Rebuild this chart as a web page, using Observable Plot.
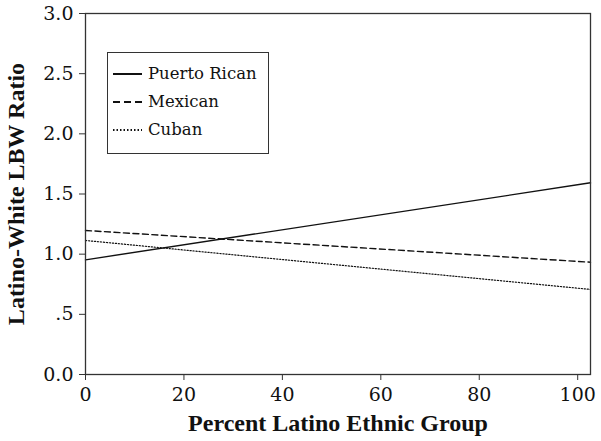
<!DOCTYPE html>
<html>
<head>
<meta charset="utf-8">
<script src="https://cdn.jsdelivr.net/npm/d3@7"></script>
<script src="https://cdn.jsdelivr.net/npm/@observablehq/plot@0.6"></script>
<style>
  html, body { margin: 0; padding: 0; background: #fff; }
  #wrap { position: relative; width: 601px; height: 441px; font-family: "DejaVu Serif", serif; }
  #legend { position: absolute; left: 107px; top: 52px; width: 160px; height: 100px; border: 1px solid #333; background: #fff; }
  .item { position: absolute; left: 0; height: 24px; width: 160px; }
  .item svg { position: absolute; left: 5px; top: 6px; }
  .item span { position: absolute; left: 40px; top: 0; font-family: "DejaVu Serif", serif; font-size: 16.5px; line-height: 24px; color: #111; white-space: nowrap; }
  .ttl { font-family: "Liberation Serif", "Times New Roman", serif; }
</style>
</head>
<body>
<div id="wrap"></div>
<script>
// Data
const xValues = [0, 102.6];
const seriesNames = ["Puerto Rican", "Mexican", "Cuban"];
const puertoRican = [0.953, 1.593];
const mexican = [1.197, 0.933];
const cuban = [1.114, 0.707];
const xTicks = [0, 20, 40, 60, 80, 100];
const yTicks = [0, 0.5, 1, 1.5, 2, 2.5, 3];
const yTickLabels = ["0.0", ".5", "1.0", "1.5", "2.0", "2.5", "3.0"];
const xTitle = "Percent Latino Ethnic Group";
const yTitle = "Latino-White LBW Ratio";

const seriesValues = [puertoRican, mexican, cuban];
const dashes = ["none", "6,3.5", "1.2,1.8"];
const widths = [1.4, 1.4, 1.2];
const legendDashes = ["none", "7,4", "1.5,2"];

const rows = [];
seriesNames.forEach((s, i) => xValues.forEach((x, j) => rows.push({series: s, x, y: seriesValues[i][j]})));

const lineMarks = seriesNames.map((s, i) =>
  Plot.line(rows.filter(d => d.series === s), {
    x: "x", y: "y", stroke: "#111", strokeWidth: widths[i], strokeDasharray: dashes[i]
  })
);

const chart = Plot.plot({
  width: 601,
  height: 441,
  marginLeft: 85,
  marginRight: 11,
  marginTop: 13,
  marginBottom: 67,
  style: { fontFamily: "\"DejaVu Serif\", serif", fontSize: "19px", color: "#111", background: "#fff" },
  x: { domain: [0, 102.6], label: null },
  y: { domain: [0, 3], label: null },
  marks: [
    ...lineMarks,
    Plot.frame({ stroke: "#333", strokeWidth: 1.3 }),
    Plot.axisX({ ticks: xTicks, tickSize: 6, tickPadding: 7, tickFormat: d => String(d), label: null, stroke: "#333" }),
    Plot.axisY({ ticks: yTicks, tickSize: 6, tickPadding: 6, tickFormat: d => yTickLabels[yTicks.indexOf(d)], label: null, stroke: "#333" }),
    Plot.text([xTitle], { frameAnchor: "bottom", dy: 49, fontSize: 24, fontWeight: "bold", lineAnchor: "middle", textAnchor: "middle", fill: "#111", className: "ttl" }),
    Plot.text([yTitle], { frameAnchor: "left", rotate: -90, dx: -69, fontSize: 24, fontWeight: "bold", lineAnchor: "middle", textAnchor: "middle", fill: "#111", className: "ttl" })
  ]
});

const wrap = document.getElementById("wrap");
wrap.appendChild(chart);

const legend = document.createElement("div");
legend.id = "legend";
seriesNames.forEach((s, i) => {
  const item = document.createElement("div");
  item.className = "item";
  item.style.top = (9 + i * 28) + "px";
  item.innerHTML = `<svg width="30" height="12"><line x1="0" x2="29" y1="6" y2="6" stroke="#111" stroke-width="2" stroke-dasharray="${legendDashes[i]}"/></svg><span>${s}</span>`;
  legend.appendChild(item);
});
wrap.appendChild(legend);
</script>
</body>
</html>
